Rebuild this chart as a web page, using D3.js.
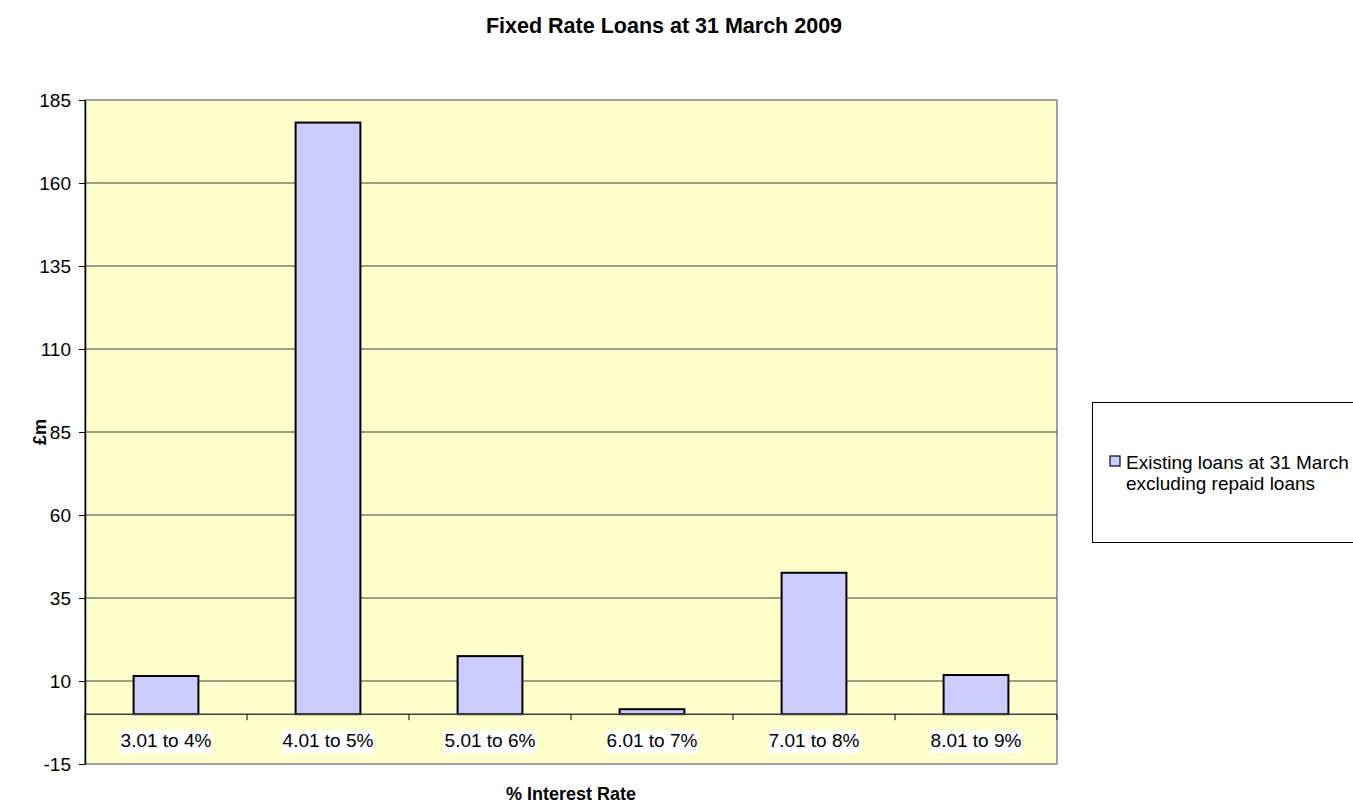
<!DOCTYPE html>
<html>
<head>
<meta charset="utf-8">
<script src="https://cdn.jsdelivr.net/npm/d3@7"></script>
<style>
  body { margin: 0; background: #fff; }
  text { font-family: "Liberation Sans", Arial, sans-serif; }
</style>
</head>
<body>
<div id="chart"></div>
<script>
// Data
var categories = ["3.01 to 4%", "4.01 to 5%", "5.01 to 6%", "6.01 to 7%", "7.01 to 8%", "8.01 to 9%"];
var values = [11.5, 178.2, 17.5, 1.5, 42.6, 11.8];
var yTicks = [-15, 10, 35, 60, 85, 110, 135, 160, 185];
var seriesName = ["Existing loans at 31 March", "excluding repaid loans"];

var W = 1353, H = 803;
var margin = { top: 100, left: 85 },
    width = 1057 - 85,
    height = 764 - 100;

var svg = d3.select("#chart").append("svg")
    .attr("width", W)
    .attr("height", H);

var g = svg.append("g")
    .attr("transform", "translate(" + margin.left + "," + margin.top + ")");

var x = d3.scaleBand().domain(categories).range([0, width]).paddingInner(0.6).paddingOuter(0.3);
var xTick = d3.scaleBand().domain(categories).range([0, width]);
var y = d3.scaleLinear().domain([-15, 185]).range([height, 0]);

// Plot background
g.append("rect")
    .attr("width", width)
    .attr("height", height)
    .attr("fill", "#FFFFCC")
    .attr("stroke", "#808080")
    .attr("stroke-width", 1.5);

// Gridlines
g.selectAll(".grid")
    .data(yTicks.filter(function (d) { return d !== -15 && d !== 185; }))
    .enter().append("line")
    .attr("x1", 0).attr("x2", width)
    .attr("y1", function (d) { return y(d); })
    .attr("y2", function (d) { return y(d); })
    .attr("stroke", "#404040")
    .attr("stroke-width", 1);

// Bars
g.selectAll(".bar")
    .data(values)
    .enter().append("rect")
    .attr("x", function (d, i) { return x(categories[i]); })
    .attr("width", x.bandwidth())
    .attr("y", function (d) { return y(d); })
    .attr("height", function (d) { return y(0) - y(d); })
    .attr("fill", "#CCCCFF")
    .attr("stroke", "#000")
    .attr("stroke-width", 2);

// X axis at zero line
var xAxis = g.append("g")
    .attr("transform", "translate(0," + y(0) + ")");
xAxis.append("line")
    .attr("x1", 0).attr("x2", width)
    .attr("stroke", "#404040").attr("stroke-width", 1.5);
xAxis.selectAll(".xt")
    .data(categories.concat(["end"]))
    .enter().append("line")
    .attr("x1", function (d, i) { return i * xTick.bandwidth(); })
    .attr("x2", function (d, i) { return i * xTick.bandwidth(); })
    .attr("y1", 0).attr("y2", 6)
    .attr("stroke", "#000").attr("stroke-width", 1);

// Category labels with white background
var lab = g.selectAll(".xl")
    .data(categories)
    .enter().append("g")
    .attr("transform", function (d) { return "translate(" + (xTick(d) + xTick.bandwidth() / 2) + "," + (y(0) + 33) + ")"; });
lab.append("rect")
    .attr("x", -46).attr("y", -17)
    .attr("width", 92).attr("height", 23)
    .attr("fill", "#fff");
lab.append("text")
    .attr("text-anchor", "middle")
    .attr("font-size", 19)
    .attr("fill", "#000")
    .text(function (d) { return d; });

// Y axis
var yAxis = g.append("g")
    .call(d3.axisLeft(y).tickValues(yTicks).tickFormat(function (d) { return String(d); })
        .tickSize(6).tickSizeOuter(0).tickPadding(8));
yAxis.select(".domain").attr("stroke", "#000").attr("stroke-width", 1.5);
yAxis.selectAll("text").attr("font-size", 19).attr("fill", "#000")
    .style("font-family", "Liberation Sans, Arial, sans-serif");

// Title
svg.append("text")
    .attr("x", 664).attr("y", 33)
    .attr("text-anchor", "middle")
    .attr("font-size", 21.5)
    .attr("font-weight", "bold")
    .text("Fixed Rate Loans at 31 March 2009");

// Axis titles
svg.append("text")
    .attr("x", 571).attr("y", 800)
    .attr("text-anchor", "middle")
    .attr("font-size", 18)
    .attr("font-weight", "bold")
    .text("% Interest Rate");

svg.append("text")
    .attr("transform", "translate(46,432) rotate(-90)")
    .attr("text-anchor", "middle")
    .attr("font-size", 18)
    .attr("font-weight", "bold")
    .text("£m");

// Legend
var leg = svg.append("g");
leg.append("rect")
    .attr("x", 1092.5).attr("y", 402.5)
    .attr("width", 270).attr("height", 140)
    .attr("fill", "#fff")
    .attr("stroke", "#000").attr("stroke-width", 1);
leg.append("rect")
    .attr("x", 1110).attr("y", 456)
    .attr("width", 10).attr("height", 10)
    .attr("fill", "#CCCCFF")
    .attr("stroke", "#000").attr("stroke-width", 1.2);
leg.selectAll(".lt")
    .data(seriesName)
    .enter().append("text")
    .attr("x", 1126)
    .attr("y", function (d, i) { return 469 + i * 21; })
    .attr("font-size", 19)
    .text(function (d) { return d; });
</script>
</body>
</html>
